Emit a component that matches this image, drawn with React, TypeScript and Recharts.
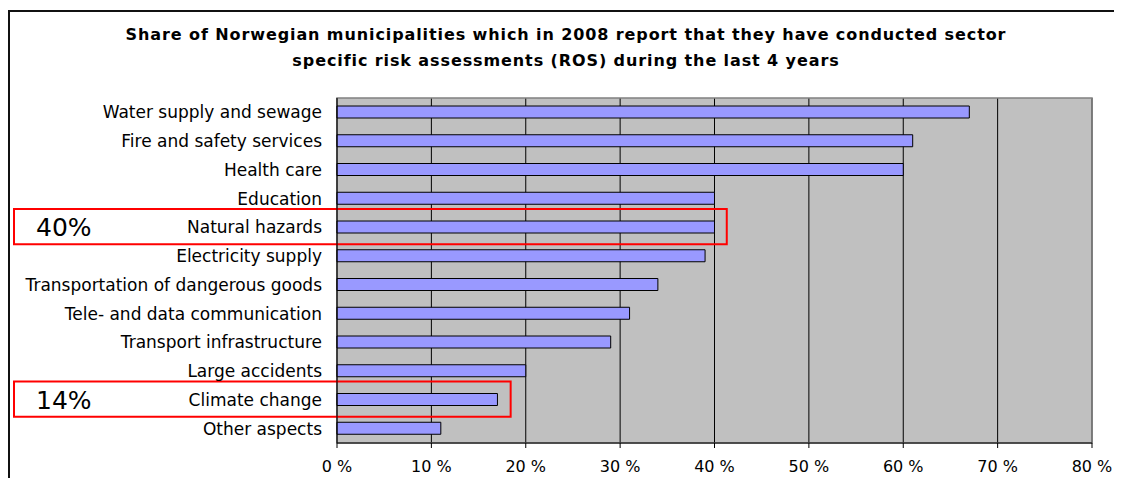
import {
  BarChart,
  Bar,
  XAxis,
  YAxis,
  CartesianGrid,
  ReferenceArea,
} from "recharts";

const categories = [
  "Water supply and sewage",
  "Fire and safety services",
  "Health care",
  "Education",
  "Natural hazards",
  "Electricity supply",
  "Transportation of dangerous goods",
  "Tele- and data communication",
  "Transport infrastructure",
  "Large accidents",
  "Climate change",
  "Other aspects",
];

const shares = [67, 61, 60, 40, 40, 39, 34, 31, 29, 20, 17, 11];

const xTicks = [0, 10, 20, 30, 40, 50, 60, 70, 80];

// band boundaries for the little tick marks between categories
const bandTicks = [0, 1, 2, 3, 4, 5, 6, 7, 8, 9, 10, 11, 12];

const highlightRows = ["Natural hazards", "Climate change"];
const highlightLabels = ["40%", "14%"];
const highlightEnds = [41.3, 18.4];

const titleLines = [
  "Share of Norwegian municipalities which in 2008 report that they have conducted sector",
  "specific risk assessments (ROS) during the last 4 years",
];

const FONT = "'DejaVu Sans', Arial, sans-serif";

const chartData = categories.map((name, i) => ({ name, value: shares[i] }));

function HighlightBox(props: any) {
  const { x, y, width, height, label } = props;
  const left = 4;
  return (
    <g>
      <rect
        x={left}
        y={y - 4}
        width={x + width - left}
        height={height + 6.5}
        fill="none"
        stroke="#ff0000"
        strokeWidth={2}
      />
      <text
        x={26}
        y={y + height / 2}
        dy="0.36em"
        fontSize={25}
        fontFamily={FONT}
        fill="#000"
      >
        {label}
      </text>
    </g>
  );
}

export default function App() {
  return (
    <div style={{ paddingTop: 2 }}>
      <div
        style={{
          position: "relative",
          width: 1112,
          height: 466,
          borderLeft: "2px solid #111",
          borderTop: "2px solid #111",
        }}
      >
        <div
          style={{
            position: "absolute",
            top: 10,
            left: 0,
            width: 1112,
            textAlign: "center",
            fontFamily: FONT,
            fontWeight: "bold",
            fontSize: 16,
            letterSpacing: 0.9,
            lineHeight: "26px",
            color: "#000",
          }}
        >
          {titleLines.map((t) => (
            <div key={t}>{t}</div>
          ))}
        </div>
        <BarChart
          width={1112}
          height={466}
          data={chartData}
          layout="vertical"
          margin={{ top: 86, right: 30, bottom: 5, left: 0 }}
        >
          <CartesianGrid
            yAxisId="cat"
            horizontal={false}
            stroke="#000"
            fill="#c0c0c0"
            fillOpacity={1}
          />
          <YAxis
            yAxisId="grid"
            type="number"
            domain={[0, 12]}
            ticks={bandTicks}
            width={0}
            tick={false}
            tickSize={4}
            axisLine={false}
            tickLine={{ stroke: "#000" }}
          />
          <YAxis
            yAxisId="cat"
            type="category"
            dataKey="name"
            width={327}
            interval={0}
            tickLine={false}
            tickSize={0}
            tickMargin={15}
            axisLine={{ stroke: "#000" }}
            tick={{ fill: "#000", fontSize: 17, fontFamily: FONT }}
          />
          <XAxis
            type="number"
            domain={[0, 80]}
            ticks={xTicks}
            height={30}
            tickFormatter={(v) => `${v} %`}
            tickSize={5}
            tickMargin={13}
            axisLine={{ stroke: "#000" }}
            tickLine={{ stroke: "#000" }}
            tick={{ fill: "#000", fontSize: 16, fontFamily: FONT }}
          />
          <Bar
            yAxisId="cat"
            dataKey="value"
            fill="#9999ff"
            stroke="#000"
            strokeWidth={1}
            barSize={12}
            isAnimationActive={false}
          />
          <ReferenceArea
            yAxisId="cat"
            x1={0}
            x2={80}
            fill="none"
            stroke="#808080"
            strokeWidth={1.5}
            ifOverflow="visible"
          />
          {highlightRows.map((row, i) => (
            <ReferenceArea
              key={row}
              yAxisId="cat"
              x1={0}
              x2={highlightEnds[i]}
              y1={row}
              y2={row}
              ifOverflow="visible"
              shape={(p: any) => (
                <HighlightBox {...p} label={highlightLabels[i]} />
              )}
            />
          ))}
        </BarChart>
      </div>
    </div>
  );
}
